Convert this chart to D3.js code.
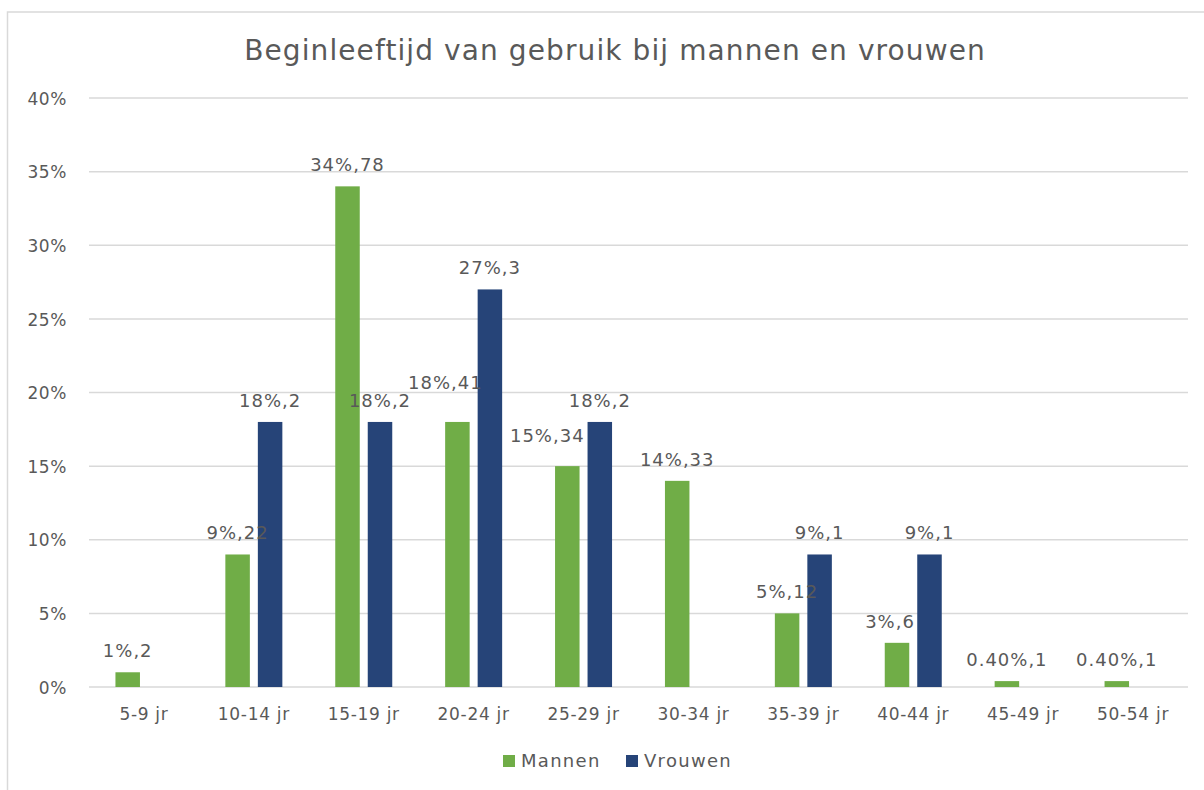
<!DOCTYPE html>
<html>
<head>
<meta charset="utf-8">
<script src="https://cdn.jsdelivr.net/npm/d3@7"></script>
<style>
  body { margin: 0; background: #fff; }
  text { font-family: "DejaVu Sans", sans-serif; fill: #595959; }
</style>
</head>
<body>
<div id="chart"></div>
<script>
const width = 1204;
const height = 790;

const categories = ["5-9 jr", "10-14 jr", "15-19 jr", "20-24 jr", "25-29 jr",
                    "30-34 jr", "35-39 jr", "40-44 jr", "45-49 jr", "50-54 jr"];
const series = ["Mannen", "Vrouwen"];
const mannen = [1, 9, 34, 18, 15, 14, 5, 3, 0.4, 0.4];
const vrouwen = [0, 18, 18, 27, 18, 0, 9, 9, 0, 0];
const mannenLabels = ["1%,2", "9%,22", "34%,78", "18%,41", "15%,34", "14%,33", "5%,12", "3%,6", "0.40%,1", "0.40%,1"];
const vrouwenLabels = ["", "18%,2", "18%,2", "27%,3", "18%,2", "", "9%,1", "9%,1", "", ""];
const yTicks = [0, 5, 10, 15, 20, 25, 30, 35, 40];

const colors = { Mannen: "#70AD47", Vrouwen: "#264478" };

// labels that were dragged by hand in the original
const nudge = { "Mannen|20-24 jr": [-12, -18], "Mannen|25-29 jr": [-20, -9], "Mannen|40-44 jr": [-7, 0] };

const svg = d3.select("#chart")
  .append("svg")
  .attr("width", width)
  .attr("height", height);

// chart frame
svg.append("rect")
  .attr("x", 7.5)
  .attr("y", 12)
  .attr("width", 1300)
  .attr("height", 900)
  .attr("fill", "none")
  .attr("stroke", "#D9D9D9")
  .attr("stroke-width", 1.5);

const x = d3.scaleBand()
  .domain(categories)
  .range([89, 1188]);

const x1 = d3.scaleBand()
  .domain(series)
  .range([x.bandwidth() / 2 - 28.5, x.bandwidth() / 2 + 28.5])
  .paddingInner(0.246);

const y = d3.scaleLinear()
  .domain([0, 40])
  .range([687, 98]);

// gridlines
svg.append("g")
  .selectAll("line")
  .data(yTicks)
  .join("line")
  .attr("x1", 89)
  .attr("x2", 1188)
  .attr("y1", d => y(d))
  .attr("y2", d => y(d))
  .attr("stroke", "#D9D9D9")
  .attr("stroke-width", 1.5);

// y axis labels
const yAxis = svg.append("g")
  .attr("transform", "translate(67,0)")
  .call(d3.axisLeft(y).tickValues(yTicks).tickFormat(d => d + "%").tickSize(0).tickPadding(0));
yAxis.select(".domain").remove();
yAxis.selectAll("text")
  .attr("font-family", "DejaVu Sans")
  .attr("font-size", 17)
  .attr("letter-spacing", 0.6)
  .attr("fill", "#595959")
  .attr("dy", "0.36em");

// x axis labels
const xAxis = svg.append("g")
  .attr("transform", "translate(0,704)")
  .call(d3.axisBottom(x).tickSize(0).tickPadding(0));
xAxis.select(".domain").remove();
xAxis.selectAll("text")
  .attr("font-family", "DejaVu Sans")
  .attr("font-size", 17)
  .attr("letter-spacing", 0.7)
  .attr("fill", "#595959")
  .attr("dy", "0.95em");

const rows = [];
categories.forEach((c, i) => {
  rows.push({ cat: c, s: "Mannen", v: mannen[i], label: mannenLabels[i] });
  rows.push({ cat: c, s: "Vrouwen", v: vrouwen[i], label: vrouwenLabels[i] });
});

svg.append("g")
  .selectAll("rect")
  .data(rows.filter(d => d.v > 0))
  .join("rect")
  .attr("x", d => x(d.cat) + x1(d.s))
  .attr("y", d => y(d.v))
  .attr("width", x1.bandwidth())
  .attr("height", d => y(0) - y(d.v))
  .attr("fill", d => colors[d.s]);

svg.append("g")
  .selectAll("text")
  .data(rows.filter(d => d.label))
  .join("text")
  .attr("x", d => x(d.cat) + x1(d.s) + x1.bandwidth() / 2 + (nudge[d.s + "|" + d.cat] || [0, 0])[0])
  .attr("y", d => y(d.v) - 15 + (nudge[d.s + "|" + d.cat] || [0, 0])[1])
  .attr("text-anchor", "middle")
  .attr("font-size", 18)
  .attr("letter-spacing", 1)
  .text(d => d.label);

// title
svg.append("text")
  .attr("x", 615)
  .attr("y", 60)
  .attr("text-anchor", "middle")
  .attr("font-size", 28)
  .attr("letter-spacing", 1.1)
  .text("Beginleeftijd van gebruik bij mannen en vrouwen");

// legend
const legend = svg.append("g").attr("transform", "translate(503,755)");
const legendX = [0, 123];
series.forEach((s, i) => {
  const g = legend.append("g").attr("transform", `translate(${legendX[i]},0)`);
  g.append("rect")
    .attr("width", 12)
    .attr("height", 12)
    .attr("fill", colors[s]);
  g.append("text")
    .attr("x", 18)
    .attr("y", 12)
    .attr("font-size", 18)
    .attr("letter-spacing", 1.3)
    .text(s);
});
</script>
</body>
</html>
